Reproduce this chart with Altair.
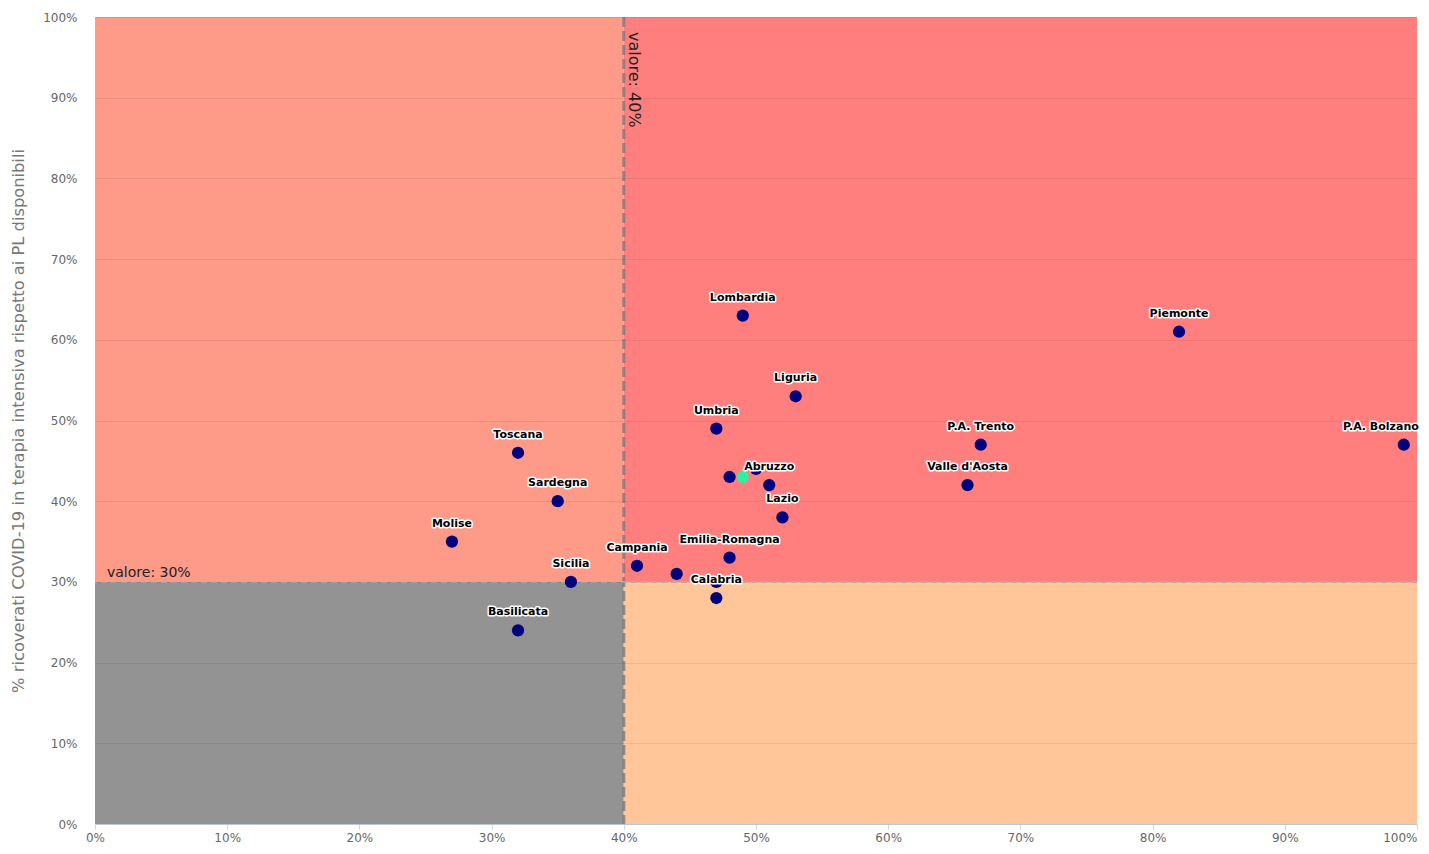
import altair as alt
import pandas as pd

# ---- data ----
regioni = ["Lombardia", "Piemonte", "Liguria", "Umbria", "Toscana", "P.A. Trento",
           "P.A. Bolzano", "Valle d'Aosta", "Abruzzo", "Lazio", "Sardegna", "Molise",
           "Sicilia", "Campania", "Emilia-Romagna", "Calabria", "Basilicata",
           "Veneto", "Marche", "Puglia", "Friuli Venezia Giulia"]
pct_area = [49, 82, 53, 47, 32, 67, 99, 66, 51, 52, 35, 27, 36, 41, 48, 47, 32, 48, 50, 44, 47]
pct_ti = [63, 61, 53, 49, 46, 47, 47, 42, 42, 38, 40, 35, 30, 32, 33, 28, 24, 43, 44, 31, 30]
etichette_visibili = ["Lombardia", "Piemonte", "Liguria", "Umbria", "Toscana", "P.A. Trento",
                      "P.A. Bolzano", "Valle d'Aosta", "Abruzzo", "Lazio", "Sardegna", "Molise",
                      "Sicilia", "Campania", "Emilia-Romagna", "Calabria", "Basilicata"]
etichette_bordo_dx = ["P.A. Bolzano"]

italia_x = [49]
italia_y = [43]

soglia_x = 40
soglia_y = 30

quad_nome = ["alto-sx", "alto-dx", "basso-sx", "basso-dx"]
quad_x0 = [0, 40, 0, 40]
quad_x1 = [40, 100, 40, 100]
quad_y0 = [30, 30, 0, 0]
quad_y1 = [100, 100, 30, 30]
quad_colori = ["#FD9A88", "#FF7F7F", "#939393", "#FFC699"]

tick_vals = [0, 10, 20, 30, 40, 50, 60, 70, 80, 90, 100]

# ---- tables ----
df = pd.DataFrame({
    "regione": regioni,
    "x": pct_area,
    "y": pct_ti,
})
df["label_c"] = [r if (r in etichette_visibili and r not in etichette_bordo_dx) else "" for r in regioni]
df["label_r"] = [r if r in etichette_bordo_dx else "" for r in regioni]
df_it = pd.DataFrame({"x": italia_x, "y": italia_y})
df_q = pd.DataFrame({"q": quad_nome, "x0": quad_x0, "x1": quad_x1, "y0": quad_y0, "y1": quad_y1})

xscale = alt.Scale(domain=[0, 100], nice=False, zero=False)
yscale = alt.Scale(domain=[0, 100], nice=False, zero=False)

AX_FONT = "DejaVu Sans"
AX_COLOR = "#666666"

xaxis = alt.Axis(values=tick_vals, labelExpr="datum.value + '%'", title=None, grid=False,
                 domainColor="#c9d7e8", tickColor="#c9d7e8", tickSize=5, labelPadding=3,
                 labelColor=AX_COLOR, labelFont=AX_FONT, labelFontSize=12, labelFlush=False,
                 labelAlign={"condition": {"test": "datum.value == 100", "value": "right"},
                             "value": "center"})
yaxis = alt.Axis(values=tick_vals, labelExpr="datum.value + '%'",
                 title="% ricoverati COVID-19 in terapia intensiva rispetto ai PL disponibili",
                 grid=True, gridColor="#000000", gridOpacity=0.07, domain=False, ticks=False,
                 labelPadding=18, labelColor=AX_COLOR, labelFont=AX_FONT, labelFontSize=12,
                 titleColor="#777777", titleFont=AX_FONT, titleFontSize=16.3,
                 titleFontWeight="normal", titleX=-77, titleBaseline="middle", zindex=1)

rects = alt.Chart(df_q).mark_rect().encode(
    x=alt.X("x0:Q", scale=xscale, axis=xaxis),
    x2="x1:Q",
    y=alt.Y("y0:Q", scale=yscale, axis=yaxis),
    y2="y1:Q",
    color=alt.Color("q:N", scale=alt.Scale(domain=quad_nome, range=quad_colori), legend=None),
)

vline = alt.Chart(pd.DataFrame({"x": [soglia_x]})).mark_rule(
    color="#7a7a7a", strokeWidth=3, strokeDash=[10, 4], opacity=0.8
).encode(x=alt.X("x:Q", scale=xscale))

hline = alt.Chart(pd.DataFrame({"y": [soglia_y]})).mark_rule(
    color="#b4b4b4", strokeWidth=2, strokeDash=[6, 4], opacity=0.8
).encode(y=alt.Y("y:Q", scale=yscale))

txt30 = alt.Chart(pd.DataFrame({"x": [0], "y": [soglia_y], "t": ["valore: 30%"]})).mark_text(
    align="left", baseline="bottom", dx=12, dy=-2, fontSize=14, font="DejaVu Sans", color="#222222"
).encode(x=alt.X("x:Q", scale=xscale), y=alt.Y("y:Q", scale=yscale), text="t:N")

# rotated text: dx runs along the text (downwards), dy across it
txt40 = alt.Chart(pd.DataFrame({"x": [soglia_x], "y": [100], "t": ["valore: 40%"]})).mark_text(
    align="left", baseline="bottom", angle=90, dx=15, dy=-2, fontSize=16, font="DejaVu Sans",
    color="#222222"
).encode(x=alt.X("x:Q", scale=xscale), y=alt.Y("y:Q", scale=yscale), text="t:N")

points = alt.Chart(df).mark_circle(size=150, color="#00007F", opacity=1).encode(
    x=alt.X("x:Q", scale=xscale), y=alt.Y("y:Q", scale=yscale),
    tooltip=["regione:N", "x:Q", "y:Q"],
)

italia = alt.Chart(df_it).mark_circle(size=150, color="#2EF0A0", opacity=1).encode(
    x=alt.X("x:Q", scale=xscale), y=alt.Y("y:Q", scale=yscale),
)

LBL = dict(font="DejaVu Sans", fontSize=11, fontWeight="bold", dy=-18, baseline="middle")
HALO = dict(stroke="white", strokeWidth=3, strokeJoin="round", color="white")


def label_layer(field, align, dx, halo):
    style = dict(LBL, align=align, dx=dx)
    if halo:
        style.update(HALO)
    else:
        style.update(color="#000000")
    return alt.Chart(df).mark_text(**style).encode(
        x=alt.X("x:Q", scale=xscale), y=alt.Y("y:Q", scale=yscale), text=f"{field}:N")


layers = [rects, vline, hline, txt30, txt40, points, italia,
          label_layer("label_c", "center", 0, True),
          label_layer("label_r", "right", 15, True),
          label_layer("label_c", "center", 0, False),
          label_layer("label_r", "right", 15, False)]

chart = alt.layer(*layers).properties(
    width=1322, height=807,
    autosize=alt.AutoSizeParams(type="none"),
    padding={"left": 87, "top": 9, "right": 4, "bottom": 22},
).configure_view(stroke=None)

chart.save("out.html", embed_options={"renderer": "svg", "actions": False})
